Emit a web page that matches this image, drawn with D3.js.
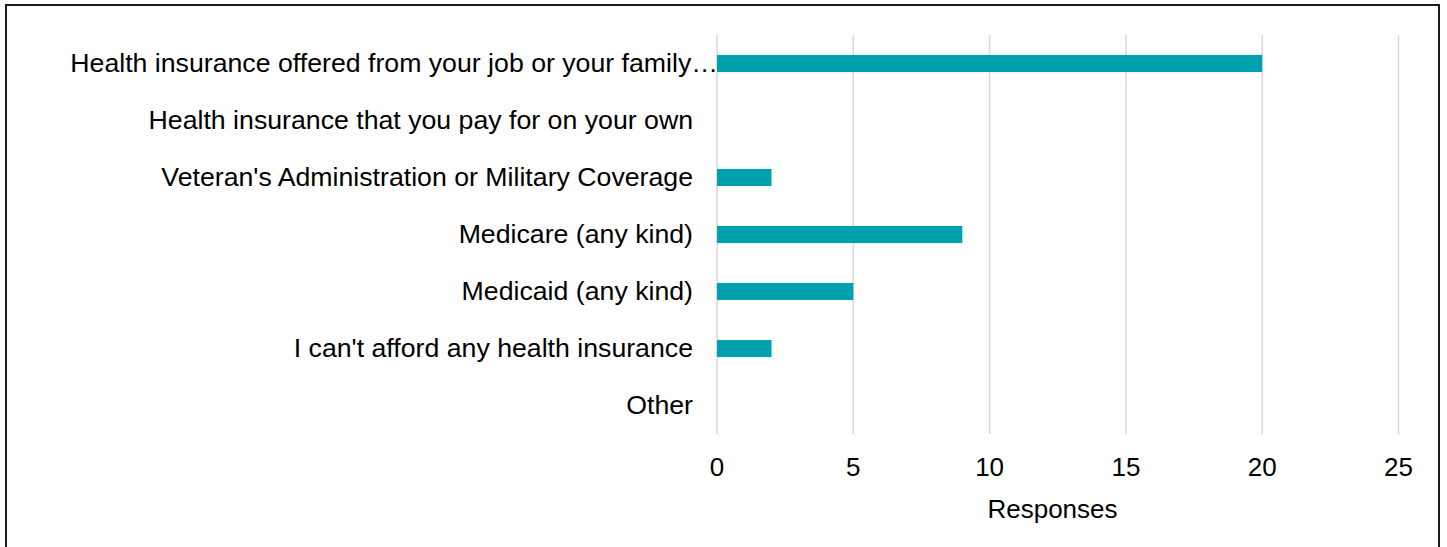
<!DOCTYPE html>
<html>
<head>
<meta charset="utf-8">
<script src="https://cdn.jsdelivr.net/npm/d3@7"></script>
<style>
  body { margin: 0; background: #fff; }
  svg { display: block; font-family: "Liberation Sans", Arial, sans-serif; }
</style>
</head>
<body>
<div id="chart"></div>
<script>
// chart data
const categories = [
    "Health insurance offered from your job or your family\u2026",
    "Health insurance that you pay for on your own",
    "Veteran's Administration or Military Coverage",
    "Medicare (any kind)",
    "Medicaid (any kind)",
    "I can't afford any health insurance",
    "Other"
];
const responses = [20, 0, 2, 9, 5, 2, 0];
const xTicks = [0, 5, 10, 15, 20, 25];
const xTitle = "Responses";

function drawChart() {
    const width = 1447, height = 547;
    const left = 717, right = 1398.5, top = 35, bottom = 434;
    const fontSize = 26;

    const svg = d3.select("#chart").append("svg")
        .attr("width", width)
        .attr("height", height);

    // outer frame
    svg.append("rect")
        .attr("x", 6).attr("y", 5)
        .attr("width", 1433).attr("height", 560)
        .attr("fill", "none")
        .attr("stroke", "#1a1a1a")
        .attr("stroke-width", 2);

    const x = d3.scaleLinear().domain([0, 25]).range([left, right]);
    const y = d3.scaleBand().domain(categories).range([top, bottom]).paddingInner(0.7).paddingOuter(0.35);

    // vertical gridlines
    svg.append("g").selectAll("line")
        .data(xTicks)
        .join("line")
        .attr("x1", d => x(d)).attr("x2", d => x(d))
        .attr("y1", top).attr("y2", bottom)
        .attr("stroke", "#d9d9d9")
        .attr("stroke-width", 1.5);

    // bars
    svg.append("g").selectAll("rect")
        .data(responses)
        .join("rect")
        .attr("x", x(0))
        .attr("y", (d, i) => y(categories[i]))
        .attr("width", d => x(d) - x(0))
        .attr("height", y.bandwidth())
        .attr("fill", "#00a1ae");

    // category labels
    svg.append("g").selectAll("text")
        .data(categories)
        .join("text")
        .attr("x", (d, i) => i === 0 ? 718 : 693)
        .attr("y", d => y(d) + y.bandwidth() / 2 + 8.5)
        .attr("text-anchor", "end")
        .attr("font-size", 26.7)
        .attr("fill", "#000")
        .text(d => d);

    // tick labels
    svg.append("g").selectAll("text")
        .data(xTicks)
        .join("text")
        .attr("x", d => x(d))
        .attr("y", 476)
        .attr("text-anchor", "middle")
        .attr("font-size", fontSize)
        .attr("fill", "#000")
        .text(d => d);

    svg.append("text")
        .attr("x", 1052.5)
        .attr("y", 518)
        .attr("text-anchor", "middle")
        .attr("font-size", fontSize)
        .attr("fill", "#000")
        .text(xTitle);
}

drawChart();
</script>
</body>
</html>
